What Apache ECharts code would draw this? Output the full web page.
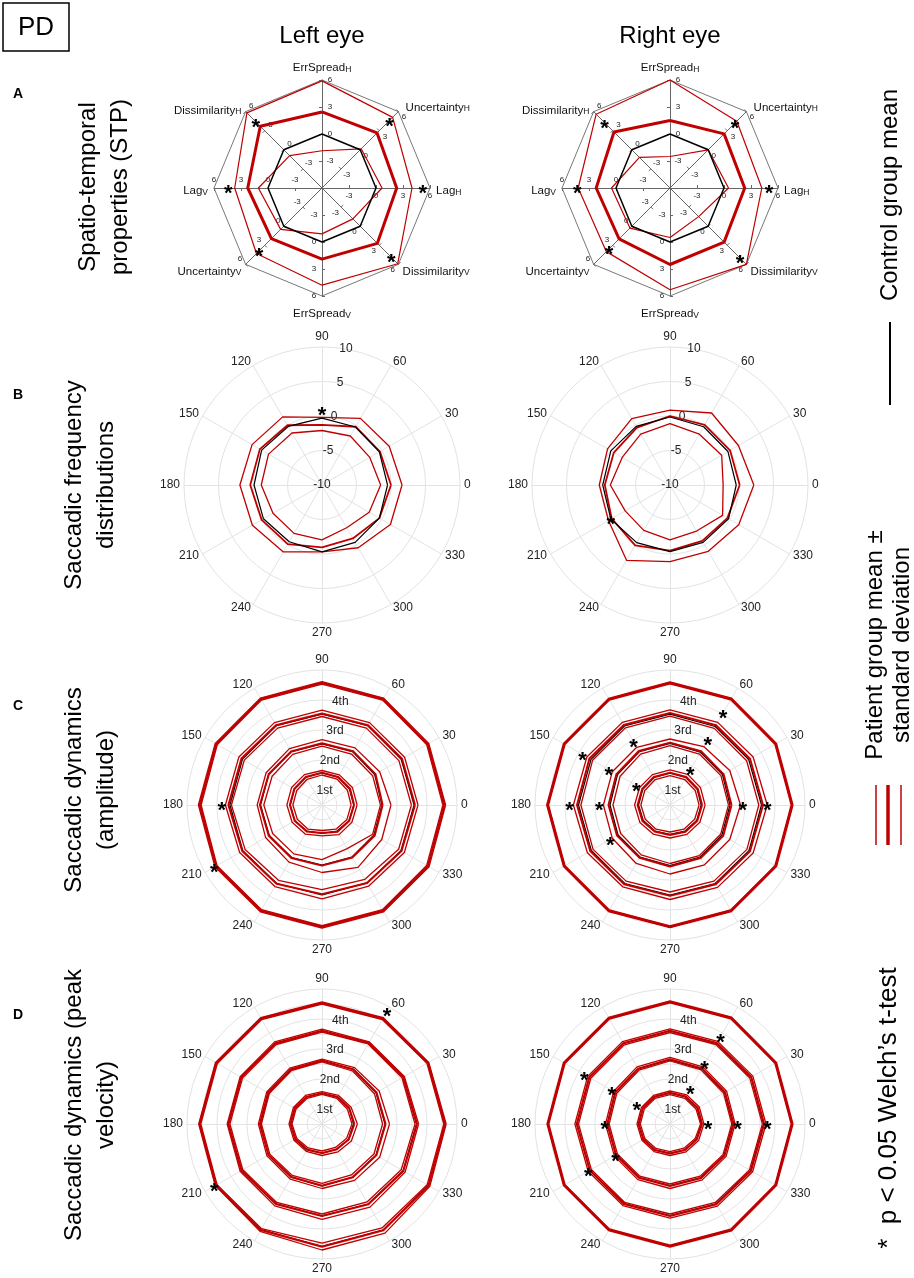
<!DOCTYPE html>
<html>
<head>
<meta charset="utf-8">
<script src="https://cdn.jsdelivr.net/npm/echarts@6/dist/echarts.min.js"></script>
<style>
  html, body { margin: 0; padding: 0; background: #fff; }
  #main { width: 914px; height: 1278px; }
</style>
</head>
<body>
<div id="main"></div>
<script>
// ---- data ----
// STP axes, counter-clockwise from the top
const stpAxes = ['ErrSpread_H', 'Dissimilarity_H', 'Lag_V', 'Uncertainty_V', 'ErrSpread_V', 'Dissimilarity_V', 'Lag_H', 'Uncertainty_H'];
const stpCtrl = [0, 0, 0, 0, 0, 0, 0, 0];
const stpLeftMean = [2.45, 3.7, 2.25, 1.95, 1.9, 2.7, 2.3, 2.65];
const stpLeftUpper = [5.9, 5.8, 3.7, 4.3, 4.8, 5.9, 4.0, 5.1];
const stpLeftLower = [-1.86, -0.92, 1.07, 0.5, -0.9, -1.15, 0.67, 0.16];
const stpLeftStars = [[1, 4.4], [2, 4.4], [3, 3.9], [5, 4.9], [6, 5.2], [7, 4.6]];
const stpRightMean = [1.5, 2.8, 2.2, 2.0, 2.5, 2.5, 2.3, 2.5];
const stpRightUpper = [6.0, 5.6, 4.2, 4.0, 5.3, 6.0, 4.2, 4.5];
const stpRightLower = [-2.5, -1.2, 0.5, 0.3, -0.5, -1.5, 0.5, 0.0];
const stpRightStars = [[1, 4.3], [2, 4.3], [3, 3.6], [5, 5.0], [6, 5.0], [7, 4.2]];

// direction labels 0..330
const angleLabels = ['0', '30', '60', '90', '120', '150', '180', '210', '240', '270', '300', '330'];
const ringLabels = ['1st', '2nd', '3rd', '4th'];

// saccadic frequency distributions
const freqLeftCtrl = [-0.5, -0.4, -0.3, -0.3, -0.2, 0.1, -0.15, -0.2, -0.5, -0.3, -0.4, -0.4];
const freqLeftMean = [0, -0.3, -0.25, -1.3, 0, 0.4, 0.4, 0.1, -0.1, -0.95, -1.05, -0.4];
const freqLeftUpper = [1.6, 1.25, 1.15, -0.2, 1.4, 1.7, 1.9, 1.65, 1.2, -0.3, 0.5, 1.45];
const freqLeftLower = [-1.5, -2, -1.8, -2.1, -1.3, -1.05, -1.2, -1.8, -1.9, -2.05, -2.85, -2.1];
const freqLeftStars = [[3, 0.85]];
const freqRightCtrl = [-0.4, -0.3, -0.25, -0.15, -0.2, -0.1, -0.25, -0.1, -0.35, -0.35, -0.4, -0.2];
const freqRightMean = [0.1, 0.05, 0.05, 0, -0.4, -0.6, -0.55, -0.25, 0.1, -0.5, -0.65, -0.4];
const freqRightUpper = [2.15, 1.45, 2.05, 0.85, 1.1, 0.45, 0.25, 0.3, 2.6, 1.1, 1.1, 1.5];
const freqRightLower = [-2.3, -1.35, -1.5, -1.1, -1.5, -2, -1.35, -2.5, -2.4, -2.05, -2.3, -1.2];
const freqRightStars = [[7, -0.1]];

// saccadic dynamics (amplitude), one row per ring 1st..4th
const ampLeftCtrl = [
  [1.06, 1.06, 1.07, 1.07, 1.07, 1.06, 1.06, 1.05, 1.0, 0.95, 1.0, 1.04],
  [2.0, 2.03, 2.05, 2.04, 2.05, 2.05, 2.05, 2.03, 2.02, 2.0, 2.0, 2.0],
  [3.07, 3.05, 3.05, 3.03, 3.05, 3.06, 3.07, 3.05, 3.02, 3.0, 3.0, 3.04],
  [4.07, 4.07, 4.07, 4.07, 4.07, 4.07, 4.07, 4.07, 4.07, 4.05, 4.07, 4.07]
];
const ampLeftMean = [
  [1.07, 1.08, 1.08, 1.08, 1.08, 1.07, 1.07, 1.05, 1.02, 0.93, 1.03, 1.05],
  [2.02, 2.06, 2.07, 2.06, 2.06, 2.05, 2.07, 2.05, 2.04, 2.02, 2.02, 2.03],
  [3.1, 3.08, 3.07, 3.05, 3.07, 3.1, 3.12, 3.07, 3.03, 2.97, 3.0, 3.06],
  [4.08, 4.07, 4.08, 4.07, 4.08, 4.07, 4.08, 4.08, 4.07, 4.06, 4.07, 4.08]
];
const ampLeftUpper = [
  [1.17, 1.17, 1.16, 1.15, 1.17, 1.17, 1.17, 1.15, 1.12, 1.03, 1.14, 1.15],
  [2.3, 2.22, 2.2, 2.18, 2.17, 2.15, 2.16, 2.17, 2.2, 2.25, 2.4, 2.3],
  [3.2, 3.18, 3.17, 3.16, 3.17, 3.2, 3.22, 3.17, 3.14, 3.13, 3.12, 3.17],
  [4.12, 4.11, 4.11, 4.11, 4.11, 4.11, 4.12, 4.12, 4.11, 4.1, 4.11, 4.12]
];
const ampLeftLower = [
  [0.97, 0.98, 1.0, 1.0, 0.99, 0.97, 0.97, 0.95, 0.93, 0.85, 0.93, 0.96],
  [1.95, 1.95, 1.96, 1.96, 1.95, 1.92, 1.94, 1.9, 1.88, 1.82, 1.68, 1.95],
  [2.98, 2.96, 2.96, 2.95, 2.96, 2.99, 3.02, 2.96, 2.9, 2.82, 2.86, 2.95],
  [4.03, 4.03, 4.04, 4.03, 4.04, 4.03, 4.03, 4.04, 4.03, 4.02, 4.03, 4.03]
];
const ampLeftStars = [[6, 3.34], [7, 4.15]];
const ampRightCtrl = [
  [1.04, 1.05, 1.06, 1.06, 1.06, 1.05, 1.05, 1.03, 1.0, 0.98, 1.0, 1.03],
  [2.0, 2.02, 2.03, 2.05, 2.05, 2.02, 2.0, 2.0, 2.0, 2.02, 2.0, 2.0],
  [3.05, 3.03, 3.02, 3.03, 3.04, 3.04, 3.05, 3.03, 3.02, 3.0, 3.02, 3.04],
  [4.07, 4.07, 4.07, 4.07, 4.07, 4.07, 4.07, 4.07, 4.07, 4.07, 4.07, 4.07]
];
const ampRightMean = [
  [1.07, 1.07, 1.08, 1.08, 1.08, 1.07, 1.08, 1.06, 1.02, 1.0, 1.03, 1.05],
  [2.05, 2.06, 2.07, 2.08, 2.08, 2.06, 2.05, 2.04, 2.03, 2.05, 2.04, 2.05],
  [3.1, 3.08, 3.07, 3.07, 3.08, 3.1, 3.1, 3.07, 3.05, 3.03, 3.05, 3.08],
  [4.07, 4.07, 4.08, 4.07, 4.07, 4.07, 4.08, 4.07, 4.07, 4.06, 4.07, 4.07]
];
const ampRightUpper = [
  [1.17, 1.17, 1.18, 1.17, 1.17, 1.17, 1.18, 1.16, 1.12, 1.1, 1.13, 1.15],
  [2.35, 2.3, 2.25, 2.2, 2.22, 2.22, 2.22, 2.22, 2.25, 2.3, 2.3, 2.3],
  [3.24, 3.2, 3.18, 3.17, 3.18, 3.2, 3.22, 3.18, 3.15, 3.15, 3.17, 3.2],
  [4.1, 4.1, 4.11, 4.1, 4.1, 4.1, 4.11, 4.1, 4.1, 4.09, 4.1, 4.1]
];
const ampRightLower = [
  [0.97, 0.97, 0.98, 0.98, 0.98, 0.97, 0.97, 0.95, 0.93, 0.9, 0.93, 0.95],
  [1.95, 1.96, 1.96, 1.98, 1.96, 1.92, 1.9, 1.9, 1.92, 1.95, 1.95, 1.95],
  [2.96, 2.95, 2.95, 2.96, 2.97, 2.98, 2.97, 2.96, 2.93, 2.9, 2.93, 2.96],
  [4.04, 4.04, 4.05, 4.04, 4.04, 4.04, 4.05, 4.04, 4.04, 4.03, 4.04, 4.04]
];
const ampRightStars = [[2, 1.36], [5, 1.3], [5, 2.36], [4, 2.43], [6, 2.36], [7, 2.3], [2, 2.52], [0, 2.43], [2, 3.53], [5, 3.37], [6, 3.35], [0, 3.24]];

// saccadic dynamics (peak velocity)
const velLeftCtrl = [
  [1.05, 1.05, 1.04, 1.03, 1.04, 1.05, 1.05, 1.03, 1.0, 0.97, 0.98, 1.02],
  [2.1, 2.08, 2.1, 2.1, 2.08, 2.06, 2.06, 2.06, 2.05, 2.06, 2.05, 2.08],
  [3.15, 3.12, 3.12, 3.1, 3.1, 3.1, 3.12, 3.1, 3.07, 3.06, 3.08, 3.12],
  [4.1, 4.07, 4.05, 4.03, 4.06, 4.06, 4.07, 4.07, 4.07, 4.08, 4.08, 4.1]
];
const velLeftMean = [
  [1.08, 1.05, 1.04, 1.03, 1.04, 1.05, 1.05, 1.02, 0.98, 0.97, 0.97, 1.03],
  [2.12, 2.1, 2.1, 2.12, 2.1, 2.08, 2.07, 2.06, 2.04, 2.06, 2.05, 2.09],
  [3.17, 3.13, 3.12, 3.11, 3.11, 3.11, 3.12, 3.1, 3.08, 3.07, 3.09, 3.13],
  [4.1, 4.08, 4.06, 4.03, 4.06, 4.07, 4.08, 4.08, 4.08, 4.09, 4.09, 4.1]
];
const velLeftUpper = [
  [1.18, 1.12, 1.1, 1.08, 1.1, 1.1, 1.1, 1.08, 1.05, 1.05, 1.07, 1.13],
  [2.25, 2.2, 2.17, 2.16, 2.15, 2.13, 2.12, 2.12, 2.12, 2.15, 2.17, 2.22],
  [3.22, 3.17, 3.16, 3.16, 3.16, 3.15, 3.16, 3.15, 3.15, 3.18, 3.2, 3.2],
  [4.14, 4.11, 4.09, 4.07, 4.09, 4.1, 4.11, 4.11, 4.13, 4.2, 4.2, 4.15]
];
const velLeftLower = [
  [1.0, 0.98, 0.99, 0.99, 0.99, 1.0, 1.0, 0.97, 0.92, 0.9, 0.9, 0.95],
  [2.02, 2.02, 2.04, 2.07, 2.05, 2.03, 2.02, 2.01, 1.98, 1.98, 1.96, 2.0],
  [3.1, 3.08, 3.08, 3.06, 3.06, 3.06, 3.07, 3.05, 3.02, 3.0, 3.0, 3.05],
  [4.06, 4.04, 4.02, 4.0, 4.02, 4.03, 4.04, 4.04, 4.03, 3.97, 4.0, 4.05]
];
const velLeftStars = [[2, 4.34], [7, 4.15]];
const velRightCtrl = [
  [1.05, 1.05, 1.04, 1.03, 1.04, 1.04, 1.04, 1.02, 1.0, 0.98, 0.99, 1.02],
  [2.1, 2.1, 2.12, 2.14, 2.12, 2.1, 2.08, 2.07, 2.06, 2.05, 2.06, 2.08],
  [3.12, 3.12, 3.1, 3.1, 3.1, 3.1, 3.1, 3.08, 3.06, 3.05, 3.07, 3.1],
  [4.07, 4.07, 4.07, 4.07, 4.07, 4.07, 4.07, 4.07, 4.07, 4.07, 4.07, 4.07]
];
const velRightMean = [
  [1.07, 1.07, 1.06, 1.04, 1.05, 1.05, 1.05, 1.03, 1.0, 0.98, 1.0, 1.03],
  [2.12, 2.12, 2.14, 2.16, 2.13, 2.11, 2.09, 2.08, 2.07, 2.07, 2.08, 2.1],
  [3.14, 3.13, 3.12, 3.11, 3.11, 3.11, 3.11, 3.09, 3.08, 3.07, 3.09, 3.12],
  [4.07, 4.07, 4.08, 4.07, 4.07, 4.07, 4.07, 4.07, 4.07, 4.07, 4.08, 4.07]
];
const velRightUpper = [
  [1.13, 1.13, 1.12, 1.1, 1.1, 1.1, 1.1, 1.08, 1.06, 1.05, 1.07, 1.1],
  [2.17, 2.18, 2.2, 2.22, 2.2, 2.17, 2.15, 2.14, 2.14, 2.15, 2.15, 2.16],
  [3.2, 3.19, 3.18, 3.17, 3.17, 3.17, 3.17, 3.15, 3.14, 3.14, 3.16, 3.18],
  [4.1, 4.1, 4.11, 4.1, 4.1, 4.1, 4.1, 4.1, 4.1, 4.1, 4.11, 4.1]
];
const velRightLower = [
  [1.02, 1.0, 0.99, 0.98, 0.99, 0.99, 0.99, 0.97, 0.94, 0.92, 0.93, 0.97],
  [2.06, 2.06, 2.08, 2.1, 2.07, 2.05, 2.03, 2.02, 2.01, 2.0, 2.01, 2.04],
  [3.08, 3.07, 3.06, 3.05, 3.05, 3.05, 3.05, 3.03, 3.02, 3.0, 3.02, 3.06],
  [4.04, 4.04, 4.05, 4.04, 4.04, 4.04, 4.04, 4.04, 4.04, 4.04, 4.05, 4.04]
];
const velRightStars = [[2, 3.37], [2, 2.3], [2, 1.36], [5, 3.3], [5, 2.24], [5, 1.28], [6, 2.17], [0, 2.25], [0, 3.24], [0, 1.27], [7, 2.1], [7, 3.15]];

// ---- build ----
const RED = '#c00000';
const FONT = '"Liberation Sans", Arial, sans-serif';
const colX = [322, 670];
const radars = [];
const series = [];

function addLines(radarIndex, lines) {
  series.push({
    type: 'radar', radarIndex: radarIndex, symbol: 'none', silent: true,
    data: lines.map(l => ({ value: l.v, lineStyle: { color: l.c, width: l.w } }))
  });
}

function addStars(radarIndex, stars, nDims) {
  const dims = stars.map(s => s[0]);
  series.push({
    type: 'radar', radarIndex: radarIndex, silent: true, symbol: 'circle', symbolSize: 1,
    itemStyle: { color: 'rgba(0,0,0,0)' }, lineStyle: { opacity: 0 },
    label: {
      show: true, position: 'inside', color: '#000', fontSize: 22, fontWeight: 'bold', offset: [0, 6],
      formatter: p => (p.dimensionIndex === dims[p.dataIndex] ? '*' : '')
    },
    data: stars.map(s => ({ value: new Array(nDims).fill(s[1]) }))
  });
}

// A: spatio-temporal properties
function stpPanel(cx, mean, upper, lower, stars) {
  radars.push({
    center: [cx, 188], radius: 108, startAngle: 90, shape: 'polygon', splitNumber: 4,
    indicator: stpAxes.map(n => ({ name: n, min: -6, max: 6 })),
    axisName: {
      color: '#111', fontSize: 11,
      formatter: n => { const p = n.split('_'); return '{b|' + p[0] + '}{sub|' + p[1] + '}'; },
      rich: {
        b: { fontSize: 11.5, lineHeight: 18, verticalAlign: 'bottom', color: '#111' },
        sub: { fontSize: 8.5, lineHeight: 8, verticalAlign: 'bottom', color: '#111' }
      }
    },
    axisNameGap: 6,
    axisLine: { lineStyle: { color: '#666', width: 1 } },
    axisTick: { show: true, length: 3, lineStyle: { color: '#666' } },
    axisLabel: {
      show: true, fontSize: 8, color: '#222', margin: -8, align: 'center', verticalAlign: 'middle',
      formatter: v => (v <= -6 ? '' : String(v))
    },
    splitLine: { lineStyle: { color: ['rgba(0,0,0,0)', 'rgba(0,0,0,0)', 'rgba(0,0,0,0)', 'rgba(0,0,0,0)', '#777'], width: 1 } },
    splitArea: { show: false }
  });
  const ri = radars.length - 1;
  addLines(ri, [
    { v: upper, c: RED, w: 1.2 },
    { v: lower, c: RED, w: 1.2 },
    { v: mean, c: RED, w: 3 },
    { v: stpCtrl, c: '#000', w: 1.5 }
  ]);
  addStars(ri, stars, stpAxes.length);
}

// B-D: polar panels; a second one-axis radar carries the radial tick labels at 80 deg
function polarPanel(cx, cy, R, min, max, split, labelFmt) {
  radars.push({
    center: [cx, cy], radius: R, startAngle: 0, shape: 'circle', splitNumber: split,
    indicator: angleLabels.map(a => ({ name: a, min: min, max: max })),
    axisName: { color: '#222', fontSize: 12 },
    axisNameGap: 4,
    axisLine: { lineStyle: { color: '#e3e3e3', width: 1 } },
    axisTick: { show: false },
    axisLabel: { show: false },
    splitLine: { lineStyle: { color: '#e3e3e3', width: 1 } },
    splitArea: { show: false }
  });
  const ri = radars.length - 1;
  radars.push({
    center: [cx, cy], radius: R, startAngle: 80, shape: 'circle', splitNumber: split,
    indicator: [{ name: '', min: min, max: max }],
    axisName: { show: false },
    axisLine: { show: false }, axisTick: { show: false },
    splitLine: { show: false }, splitArea: { show: false },
    axisLabel: {
      show: true, margin: 0, align: 'center', verticalAlign: 'middle',
      fontSize: 12, color: '#222', formatter: labelFmt
    }
  });
  return ri;
}

function freqPanel(cx, ctrl, mean, upper, lower, stars) {
  const ri = polarPanel(cx, 485, 138, -10, 10, 4, v => String(v));
  addLines(ri, [
    { v: upper, c: RED, w: 1.3 },
    { v: lower, c: RED, w: 1.3 },
    { v: mean, c: RED, w: 1.8 },
    { v: ctrl, c: '#000', w: 1.2 }
  ]);
  addStars(ri, stars, angleLabels.length);
}

function ringFmt(v) {
  const k = Math.round(v * 2);
  return (k % 2 === 1 && k <= 7) ? ringLabels[(k - 1) / 2] : '';
}

function dynPanel(cx, cy, ctrl, mean, upper, lower, stars) {
  const ri = polarPanel(cx, cy, 135, 0, 4.5, 9, ringFmt);
  const lines = [];
  // control first so the patient lines sit on top of it
  for (let g = 0; g < ctrl.length; g++) lines.push({ v: ctrl[g], c: '#000', w: 1.2 });
  for (let g = 0; g < ctrl.length; g++) {
    lines.push({ v: upper[g], c: RED, w: 1.3 });
    lines.push({ v: lower[g], c: RED, w: 1.3 });
    lines.push({ v: mean[g], c: RED, w: 2 });
  }
  addLines(ri, lines);
  addStars(ri, stars, angleLabels.length);
}

stpPanel(colX[0], stpLeftMean, stpLeftUpper, stpLeftLower, stpLeftStars);
stpPanel(colX[1], stpRightMean, stpRightUpper, stpRightLower, stpRightStars);
freqPanel(colX[0], freqLeftCtrl, freqLeftMean, freqLeftUpper, freqLeftLower, freqLeftStars);
freqPanel(colX[1], freqRightCtrl, freqRightMean, freqRightUpper, freqRightLower, freqRightStars);
dynPanel(colX[0], 805, ampLeftCtrl, ampLeftMean, ampLeftUpper, ampLeftLower, ampLeftStars);
dynPanel(colX[1], 805, ampRightCtrl, ampRightMean, ampRightUpper, ampRightLower, ampRightStars);
dynPanel(colX[0], 1124, velLeftCtrl, velLeftMean, velLeftUpper, velLeftLower, velLeftStars);
dynPanel(colX[1], 1124, velRightCtrl, velRightMean, velRightUpper, velRightLower, velRightStars);

// ---- text and legend ----
function txt(x, y, text, size, opts) {
  opts = opts || {};
  return {
    type: 'text', x: x, y: y, rotation: opts.rot || 0, silent: true,
    style: {
      text: text, fill: '#000', align: 'center', verticalAlign: 'middle',
      font: (opts.bold ? 'bold ' : '') + size + 'px ' + FONT,
      lineHeight: opts.lh || size * 1.2
    }
  };
}
function line(x1, y1, x2, y2, color, w) {
  return { type: 'line', silent: true, shape: { x1: x1, y1: y1, x2: x2, y2: y2 }, style: { stroke: color, lineWidth: w } };
}
const UP = Math.PI / 2;
const graphics = [
  { type: 'rect', silent: true, shape: { x: 3, y: 3, width: 66, height: 48 }, style: { fill: 'none', stroke: '#000', lineWidth: 1.5 } },
  txt(36, 28, 'PD', 26),
  txt(colX[0], 36, 'Left eye', 24),
  txt(colX[1], 36, 'Right eye', 24),
  txt(18, 94, 'A', 14, { bold: true }),
  txt(18, 395, 'B', 14, { bold: true }),
  txt(18, 706, 'C', 14, { bold: true }),
  txt(18, 1015, 'D', 14, { bold: true }),
  txt(104, 187, 'Spatio-temporal\nproperties (STP)', 24, { rot: UP, lh: 32 }),
  txt(90, 485, 'Saccadic frequency\ndistributions', 24, { rot: UP, lh: 32 }),
  txt(90, 790, 'Saccadic dynamics\n(amplitude)', 24, { rot: UP, lh: 32 }),
  txt(90, 1105, 'Saccadic dynamics (peak\nvelocity)', 24, { rot: UP, lh: 32 }),
  txt(890, 195, 'Control group mean', 24, { rot: UP }),
  line(890, 322, 890, 405, '#000', 2),
  txt(889, 645, 'Patient group mean \u00b1\nstandard deviation', 24, { rot: UP, lh: 27 }),
  line(876, 785, 876, 845, RED, 1.5),
  line(888, 785, 888, 845, RED, 3.5),
  line(901, 785, 901, 845, RED, 1.5),
  txt(889, 1108, '*  p < 0.05 Welch\u2019s t-test', 26, { rot: UP })
];

const chart = echarts.init(document.getElementById('main'));
chart.setOption({
  animation: false,
  backgroundColor: '#fff',
  textStyle: { fontFamily: FONT },
  radar: radars,
  series: series,
  graphic: { elements: graphics }
});
</script>
</body>
</html>
